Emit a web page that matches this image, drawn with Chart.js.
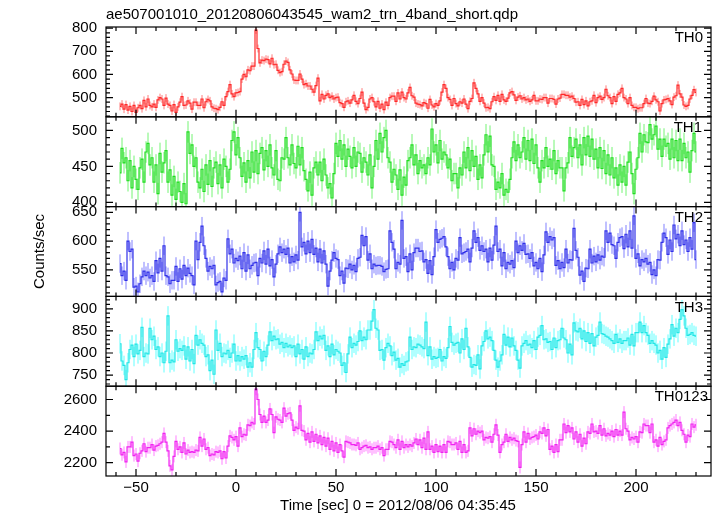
<!DOCTYPE html>
<html>
<head>
<meta charset="utf-8">
<title>wam2 trn 4band</title>
<script src="https://cdn.jsdelivr.net/npm/chart.js@4.4.1/dist/chart.umd.min.js"></script>
<style>
  html, body { margin: 0; padding: 0; background: #fff; }
</style>
</head>
<body>
<canvas id="myChart" width="717" height="516"></canvas>
<script>
// light curve, 1 s bins starting at t = -58 s
var tStart = -58;
var binSize = 1;
var bands = ['TH0', 'TH1', 'TH2', 'TH3', 'TH0123'];

var th0 = [
  462, 472, 450, 470, 446, 462, 440, 466, 436, 456,
  466, 452, 488, 460, 494, 466, 460, 472, 458, 490,
  500, 494, 466, 498, 472, 466, 442, 470, 436, 460,
  480, 504, 466, 468, 486, 476, 450, 480, 480, 466,
  466, 494, 456, 482, 492, 486, 460, 454, 452, 448,
  458, 482, 466, 504, 526, 556, 516, 504, 520, 522,
  526, 580, 600, 590, 620, 616, 636, 636, 792, 712,
  650, 662, 660, 666, 664, 646, 670, 642, 644, 618,
  608, 612, 644, 658, 652, 620, 602, 576, 574, 574,
  602, 580, 556, 560, 550, 550, 536, 524, 552, 584,
  486, 514, 494, 510, 516, 500, 506, 494, 500, 502,
  478, 474, 458, 482, 486, 476, 490, 510, 484, 474,
  496, 524, 476, 448, 458, 494, 500, 482, 460, 484,
  454, 472, 448, 480, 466, 500, 506, 506, 484, 520,
  494, 524, 500, 494, 520, 544, 508, 502, 476, 472,
  470, 464, 478, 474, 454, 492, 468, 460, 474, 466,
  486, 524, 556, 540, 500, 492, 466, 496, 474, 464,
  482, 476, 494, 472, 452, 484, 496, 564, 540, 516,
  484, 500, 476, 456, 458, 452, 482, 504, 488, 510,
  484, 514, 490, 484, 498, 520, 526, 512, 488, 502,
  508, 494, 500, 490, 494, 484, 490, 510, 486, 486,
  494, 492, 500, 500, 476, 496, 496, 492, 472, 494,
  498, 514, 514, 510, 510, 502, 506, 496, 480, 482,
  466, 492, 470, 486, 464, 482, 486, 510, 478, 500,
  506, 492, 500, 536, 508, 500, 474, 504, 484, 514,
  520, 540, 500, 494, 474, 500, 466, 458, 458, 452,
  456, 456, 474, 496, 476, 474, 484, 506, 490, 482,
  442, 474, 490, 492, 496, 486, 470, 502, 508, 554,
  516, 502, 468, 462, 466, 494, 510, 534, 522
];
var th1 = [
  441, 475, 455, 462, 430, 458, 420, 450, 432, 418,
  448, 460, 428, 470, 482, 452, 462, 428, 452, 412,
  468, 442, 455, 472, 428, 445, 410, 436, 404, 428,
  415, 400, 426, 398, 498, 468, 480, 450, 462, 428,
  420, 446, 415, 452, 425, 458, 422, 448, 456, 426,
  452, 420, 460, 450, 428, 446, 486, 498, 466, 490,
  462, 436, 455, 428, 458, 434, 470, 442, 472, 440,
  468, 476, 445, 472, 450, 480, 448, 438, 472, 432,
  430, 462, 460, 490, 462, 452, 480, 454, 448, 478,
  452, 476, 444, 432, 416, 442, 410, 448, 456, 438,
  456, 430, 460, 438, 420, 426, 406, 440, 482, 464,
  486, 460, 480, 450, 474, 464, 448, 476, 450, 470,
  468, 442, 462, 456, 438, 466, 420, 450, 486, 460,
  496, 470, 490, 500, 462, 456, 428, 446, 438, 418,
  445, 410, 435, 424, 458, 462, 480, 452, 466, 440,
  458, 448, 452, 440, 462, 452, 502, 470, 480, 455,
  486, 460, 470, 466, 448, 460, 430, 440, 440, 420,
  448, 438, 470, 448, 476, 444, 472, 450, 464, 432,
  452, 434, 466, 494, 470, 492, 452, 450, 418, 428,
  420, 440, 410, 418, 414, 432, 462, 484, 458, 480,
  462, 470, 490, 460, 486, 458, 488, 454, 480, 448,
  428, 458, 448, 476, 450, 460, 446, 472, 440, 458,
  448, 448, 416, 448, 455, 490, 464, 476, 488, 462,
  480, 452, 490, 466, 492, 464, 488, 460, 474, 448,
  476, 447, 472, 440, 466, 438, 462, 434, 448, 424,
  452, 428, 450, 424, 456, 470, 440, 412, 446, 462,
  496, 470, 494, 484, 483, 508, 488, 494, 506, 474,
  488, 464, 488, 478, 482, 460, 488, 462, 486, 458,
  488, 458, 482, 462, 470, 442, 472, 496, 470
];
var th2 = [
  561, 540, 548, 532, 600, 582, 586, 520, 522, 512,
  526, 538, 548, 540, 546, 536, 540, 530, 566, 545,
  570, 548, 592, 540, 538, 526, 532, 532, 556, 530,
  552, 534, 558, 540, 553, 544, 540, 524, 600, 568,
  598, 626, 592, 570, 548, 556, 552, 558, 524, 528,
  530, 512, 536, 532, 604, 578, 586, 562, 570, 566,
  574, 552, 580, 548, 576, 552, 558, 562, 563, 540,
  570, 562, 583, 560, 586, 557, 568, 538, 560, 578,
  590, 580, 586, 577, 588, 562, 573, 564, 576, 567,
  650, 590, 598, 578, 600, 580, 603, 577, 588, 564,
  586, 562, 583, 560, 522, 548, 567, 580, 570, 568,
  540, 548, 527, 553, 552, 560, 550, 558, 547, 570,
  572, 610, 592, 608, 567, 578, 552, 560, 557, 558,
  558, 556, 547, 551, 552, 618, 598, 586, 552, 563,
  560, 636, 570, 573, 547, 578, 550, 580, 588, 588,
  582, 583, 564, 568, 544, 566, 542, 573, 620, 598,
  603, 605, 608, 590, 573, 552, 563, 550, 570, 567,
  606, 578, 580, 582, 586, 564, 588, 618, 598, 606,
  584, 592, 582, 586, 564, 588, 567, 593, 626, 582,
  586, 557, 580, 552, 563, 560, 566, 554, 600, 580,
  592, 584, 596, 577, 578, 570, 580, 557, 563, 552,
  570, 547, 576, 616, 598, 608, 602, 606, 558, 566,
  552, 563, 554, 586, 562, 568, 567, 622, 584, 572,
  541, 548, 530, 553, 552, 586, 562, 574, 564, 576,
  567, 574, 572, 618, 598, 614, 594, 592, 570, 598,
  606, 608, 587, 612, 590, 618, 588, 644, 570, 578,
  557, 568, 564, 570, 560, 563, 542, 550, 540, 568,
  567, 598, 614, 606, 577, 602, 582, 628, 604, 612,
  592, 618, 594, 602, 582, 606, 586, 632, 568
];
var th3 = [
  821, 782, 772, 740, 778, 808, 818, 792, 820, 798,
  806, 858, 792, 800, 798, 856, 830, 838, 808, 814,
  792, 800, 778, 804, 884, 778, 784, 780, 830, 804,
  810, 806, 816, 786, 814, 782, 808, 776, 840, 818,
  830, 822, 818, 792, 796, 760, 784, 752, 852, 806,
  822, 792, 800, 798, 806, 790, 800, 820, 782, 794,
  782, 792, 786, 794, 768, 778, 768, 808, 846, 812,
  808, 782, 804, 792, 818, 848, 828, 838, 830, 832,
  820, 824, 812, 822, 814, 818, 812, 816, 792, 820,
  798, 808, 786, 814, 792, 800, 798, 808, 848, 828,
  838, 832, 840, 806, 816, 792, 820, 796, 808, 804,
  800, 772, 778, 756, 798, 836, 812, 822, 818, 826,
  850, 828, 836, 830, 852, 852, 872, 898, 856, 852,
  806, 808, 784, 812, 822, 816, 794, 802, 784, 788,
  768, 776, 772, 780, 782, 836, 808, 814, 812, 820,
  818, 814, 810, 870, 794, 814, 786, 792, 788, 790,
  808, 782, 792, 788, 812, 860, 824, 818, 822, 824,
  800, 832, 808, 856, 814, 790, 768, 774, 772, 796,
  764, 816, 826, 850, 832, 836, 828, 806, 784, 768,
  782, 796, 842, 818, 836, 814, 834, 816, 806, 784,
  766, 816, 822, 828, 818, 820, 812, 828, 808, 836,
  840, 862, 830, 832, 824, 826, 808, 834, 812, 828,
  830, 856, 834, 830, 800, 820, 796, 868, 850, 848,
  856, 832, 850, 826, 846, 822, 844, 816, 836, 840,
  870, 844, 842, 838, 836, 832, 828, 822, 842, 824,
  832, 822, 828, 828, 834, 818, 842, 816, 846, 846,
  870, 846, 862, 846, 840, 822, 828, 822, 818, 800,
  806, 786, 812, 790, 820, 832, 864, 838, 856, 846,
  876, 898, 884, 856, 840, 842, 846, 840, 838
];
var th0123 = [
  2290, 2250, 2265, 2205, 2300, 2300, 2330, 2245, 2255, 2210,
  2260, 2275, 2320, 2270, 2295, 2295, 2315, 2280, 2305, 2310,
  2320, 2330, 2385, 2330, 2275, 2180, 2155, 2240, 2335, 2285,
  2300, 2265, 2325, 2255, 2280, 2265, 2270, 2265, 2280, 2275,
  2360, 2305, 2350, 2285, 2295, 2245, 2255, 2250, 2270, 2265,
  2275, 2225, 2270, 2230, 2305, 2370, 2360, 2345, 2365, 2305,
  2420, 2365, 2380, 2375, 2440, 2435, 2455, 2445, 2665, 2600,
  2505, 2455, 2495, 2455, 2470, 2540, 2505, 2390, 2490, 2475,
  2470, 2455, 2545, 2495, 2510, 2515, 2470, 2405, 2425, 2415,
  2560, 2405, 2400, 2345, 2385, 2330, 2395, 2335, 2380, 2325,
  2370, 2315, 2360, 2305, 2355, 2285, 2335, 2275, 2325, 2265,
  2315, 2275, 2235, 2335, 2330, 2325, 2315, 2315, 2310, 2325,
  2285, 2295, 2305, 2310, 2295, 2300, 2285, 2295, 2295, 2305,
  2285, 2295, 2245, 2285, 2285, 2335, 2330, 2315, 2295, 2345,
  2285, 2335, 2295, 2315, 2300, 2315, 2305, 2325, 2350, 2315,
  2345, 2295, 2355, 2285, 2395, 2285, 2305, 2265, 2315, 2270,
  2305, 2265, 2315, 2265, 2335, 2330, 2315, 2315, 2325, 2285,
  2335, 2265, 2315, 2265, 2275, 2420, 2370, 2415, 2380, 2400,
  2390, 2400, 2345, 2360, 2355, 2365, 2330, 2380, 2440, 2375,
  2265, 2315, 2330, 2380, 2335, 2360, 2345, 2355, 2340, 2335,
  2170, 2315, 2395, 2330, 2385, 2350, 2360, 2365, 2375, 2350,
  2395, 2385, 2420, 2370, 2410, 2285, 2305, 2265, 2315, 2270,
  2345, 2345, 2445, 2390, 2435, 2395, 2420, 2350, 2395, 2330,
  2380, 2305, 2355, 2320, 2395, 2385, 2445, 2395, 2400, 2385,
  2435, 2375, 2415, 2370, 2385, 2375, 2400, 2365, 2410, 2375,
  2400, 2375, 2520, 2415, 2400, 2345, 2360, 2350, 2365, 2330,
  2395, 2390, 2445, 2435, 2435, 2390, 2445, 2330, 2345, 2305,
  2360, 2315, 2335, 2345, 2420, 2435, 2445, 2455, 2470, 2435,
  2455, 2405, 2380, 2330, 2375, 2365, 2445, 2425, 2440
];

// half length of the error bars, per band
var errHalf = [17, 15, 16, 22, 38];

// axes
var xMin = -65, xMax = 237.5, xMinor = 10;
var xTicks = [-50, 0, 50, 100, 150, 200];
var yMin = [417, 394, 504, 725, 2116];
var yMax = [805, 519, 660, 928, 2684];
var yTicks = [
  [500, 600, 700, 800],
  [400, 450, 500],
  [550, 600, 650],
  [750, 800, 850, 900],
  [2200, 2400, 2600]
];
var yMinor = [20, 10, 10, 10, 100];

var plotTitle = 'ae507001010_20120806043545_wam2_trn_4band_short.qdp';
var xTitle = 'Time [sec] 0 = 2012/08/06 04:35:45';
var yTitle = 'Counts/sec';

var lineColours = ['#ff2a2a', '#22dd22', '#3030e8', '#22e6e6', '#f024f0'];
var barColours = ['rgba(255,70,70,0.7)', 'rgba(70,240,70,0.75)', 'rgba(80,80,255,0.72)',
                  'rgba(70,255,255,0.85)', 'rgba(255,80,255,0.72)'];
var labelRight = [703, 702, 703, 703, 708];

var series = [th0, th1, th2, th3, th0123];
var times = th0.map(function (v, i) { return tStart + i * binSize; });

Chart.defaults.font.family = "'Liberation Sans', Arial, sans-serif";
Chart.defaults.font.size = 15;
Chart.defaults.color = '#000';

function isIn(list, v) {
  return list.indexOf(v) !== -1;
}

// error bars under each curve, frame + inward ticks + band names on top
var qdpPanels = {
  id: 'qdpPanels',
  beforeDatasetDraw: function (chart, args) {
    var i = args.index;
    var ctx = chart.ctx, xs = chart.scales.x, ys = chart.scales['y' + i];
    ctx.save();
    ctx.beginPath();
    ctx.rect(xs.left, ys.top, xs.right - xs.left, ys.bottom - ys.top);
    ctx.clip();
    ctx.strokeStyle = barColours[i];
    ctx.lineWidth = 1;
    ctx.beginPath();
    var vals = series[i];
    for (var k = 0; k < vals.length; k++) {
      var px = xs.getPixelForValue(times[k]);
      ctx.moveTo(px, ys.getPixelForValue(vals[k] - errHalf[i]));
      ctx.lineTo(px, ys.getPixelForValue(vals[k] + errHalf[i]));
    }
    ctx.stroke();
  },
  afterDatasetDraw: function (chart) {
    chart.ctx.restore();
  },
  afterDraw: function (chart) {
    var ctx = chart.ctx, xs = chart.scales.x;
    var left = xs.left, right = xs.right;
    ctx.save();
    ctx.strokeStyle = '#000';
    ctx.lineWidth = 1.2;
    for (var i = 0; i < bands.length; i++) {
      var ys = chart.scales['y' + i];
      var top = ys.top, bottom = ys.bottom;
      ctx.strokeRect(left, top, right - left, bottom - top);
      ctx.beginPath();
      for (var v = Math.ceil(xMin / xMinor) * xMinor; v <= xMax; v += xMinor) {
        var px = xs.getPixelForValue(v);
        var len = isIn(xTicks, v) ? 7 : 4;
        ctx.moveTo(px, top); ctx.lineTo(px, top + len);
        ctx.moveTo(px, bottom); ctx.lineTo(px, bottom - len);
      }
      for (var w = Math.ceil(yMin[i] / yMinor[i]) * yMinor[i]; w <= yMax[i]; w += yMinor[i]) {
        var py = ys.getPixelForValue(w);
        var l2 = isIn(yTicks[i], w) ? 7 : 4;
        ctx.moveTo(left, py); ctx.lineTo(left + l2, py);
        ctx.moveTo(right, py); ctx.lineTo(right - l2, py);
      }
      ctx.stroke();
      ctx.fillStyle = '#000';
      ctx.font = "15px 'Liberation Sans', Arial, sans-serif";
      ctx.textAlign = 'right';
      ctx.textBaseline = 'middle';
      ctx.fillText(bands[i], labelRight[i], top + 11);
    }
    ctx.textAlign = 'center';
    ctx.fillText(xTitle, 398, 506);
    ctx.restore();
  }
};

function plainNumber(v) {
  return String(v).replace('-', '\u2212');
}

function fixedTicks(list) {
  return function (scale) {
    scale.ticks = list.map(function (v) { return { value: v }; });
  };
}

function renderChart() {
  var datasets = series.map(function (vals, i) {
    return {
      label: bands[i],
      data: vals.map(function (v, k) { return { x: times[k], y: v }; }),
      yAxisID: 'y' + i,
      borderColor: lineColours[i],
      borderWidth: 1.2,
      pointRadius: 0,
      stepped: 'middle',
      fill: false
    };
  });

  var scales = {
    x: {
      type: 'linear', position: 'bottom', min: xMin, max: xMax,
      grid: { display: false, drawTicks: false },
      border: { display: false },
      afterBuildTicks: fixedTicks(xTicks),
      ticks: { autoSkip: false, maxRotation: 0, padding: 3, callback: plainNumber },
      afterFit: function (s) { s.height = 40; }
    }
  };
  // last defined left axis ends up on top of the stack
  for (var i = bands.length - 1; i >= 0; i--) {
    scales['y' + i] = {
      type: 'linear', position: 'left', stack: 'bands', stackWeight: 1,
      min: yMin[i], max: yMax[i],
      grid: { display: false, drawTicks: false },
      border: { display: false },
      afterBuildTicks: fixedTicks(yTicks[i]),
      ticks: { autoSkip: false, padding: 9, callback: plainNumber },
      afterFit: function (s) { s.width = 106; }
    };
  }
  scales.y2.title = { display: true, text: yTitle, padding: { top: 31, bottom: 0 } };

  var ctx = document.getElementById('myChart').getContext('2d');
  new Chart(ctx, {
    type: 'line',
    data: { datasets: datasets },
    options: {
      responsive: false,
      animation: false,
      parsing: false,
      layout: { padding: { top: 0, left: 0, right: 6, bottom: 0 } },
      scales: scales,
      plugins: {
        legend: { display: false },
        tooltip: { enabled: false },
        title: {
          display: true, text: plotTitle, align: 'start', fullSize: false,
          font: { size: 15, weight: 'normal' }, padding: { top: 6, bottom: 3 }
        }
      }
    },
    plugins: [qdpPanels]
  });
}

renderChart();
</script>
</body>
</html>
